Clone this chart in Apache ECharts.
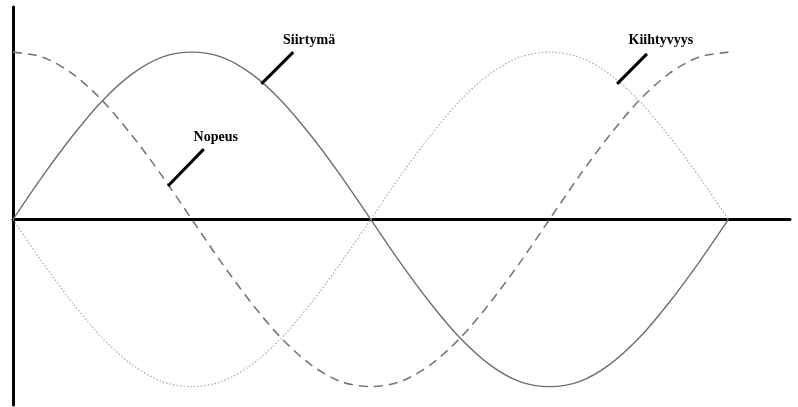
<!DOCTYPE html>
<html>
<head>
<meta charset="utf-8">
<script src="https://cdn.jsdelivr.net/npm/echarts@6/dist/echarts.min.js"></script>
<style>
  html, body { margin: 0; padding: 0; background: #fff; }
  #chart { width: 798px; height: 407px; }
</style>
</head>
<body>
<div id="chart"></div>
<script>
// phase angle in degrees (one full period)
const angles = [0, 15, 30, 45, 60, 75, 90, 105, 120, 135, 150, 165, 180,
  195, 210, 225, 240, 255, 270, 285, 300, 315, 330, 345, 360];

// values (amplitude 1 = peak height)
const siirtyma = [0, 0.26, 0.5, 0.71, 0.87, 0.97, 1, 0.97, 0.87, 0.71, 0.5, 0.26, 0,
  -0.26, -0.5, -0.71, -0.87, -0.97, -1, -0.97, -0.87, -0.71, -0.5, -0.26, 0];
const nopeus = [1, 0.97, 0.87, 0.71, 0.5, 0.26, 0, -0.26, -0.5, -0.71, -0.87, -0.97, -1,
  -0.97, -0.87, -0.71, -0.5, -0.26, 0, 0.26, 0.5, 0.71, 0.87, 0.97, 1];
const kiihtyvyys = [0, -0.26, -0.5, -0.71, -0.87, -0.97, -1, -0.97, -0.87, -0.71, -0.5, -0.26, 0,
  0.26, 0.5, 0.71, 0.87, 0.97, 1, 0.97, 0.87, 0.71, 0.5, 0.26, 0];

// annotation labels: text, leader start, leader end, text anchor (data units)
const labelNames = ['Siirtymä', 'Nopeus', 'Kiihtyvyys'];
const leaderFrom = [[125, 0.81], [78, 0.2], [304, 0.81]];
const leaderTo = [[141, 1.0], [96, 0.42], [319, 0.99]];
const labelAt = [[149, 1.07], [102, 0.49], [326, 1.07]];

const pairs = (ys) => angles.map((a, i) => [a, ys[i]]);

const chart = echarts.init(document.getElementById('chart'));

chart.setOption({
  animation: false,
  backgroundColor: '#fff',
  grid: { left: 13, right: 8, top: 7, bottom: 2 },
  xAxis: {
    type: 'value',
    min: 0,
    max: 391,
    axisLine: { onZero: true, lineStyle: { color: '#000', width: 3 } },
    axisTick: { show: false },
    axisLabel: { show: false },
    splitLine: { show: false }
  },
  yAxis: {
    type: 'value',
    min: -1.11,
    max: 1.27,
    axisLine: { show: true, lineStyle: { color: '#000', width: 3 } },
    axisTick: { show: false },
    axisLabel: { show: false },
    splitLine: { show: false }
  },
  series: [
    {
      name: 'Siirtymä', type: 'line', data: pairs(siirtyma), smooth: 0.3,
      showSymbol: false, z: 3,
      lineStyle: { color: '#6e6e6e', width: 1.4, type: 'solid' }
    },
    {
      name: 'Nopeus', type: 'line', data: pairs(nopeus), smooth: 0.3,
      showSymbol: false, z: 3,
      lineStyle: { color: '#777', width: 1.6, type: [9, 6] }
    },
    {
      name: 'Kiihtyvyys', type: 'line', data: pairs(kiihtyvyys), smooth: 0.3,
      showSymbol: false, z: 3,
      lineStyle: { color: '#aaa', width: 1.2, type: [1.5, 2] }
    }
  ]
});

// leader lines and labels, placed through the chart's own scales
const graphics = [];
labelNames.forEach((name, i) => {
  const p1 = chart.convertToPixel({ gridIndex: 0 }, leaderFrom[i]);
  const p2 = chart.convertToPixel({ gridIndex: 0 }, leaderTo[i]);
  const t = chart.convertToPixel({ gridIndex: 0 }, labelAt[i]);
  graphics.push({
    type: 'line',
    shape: { x1: p1[0], y1: p1[1], x2: p2[0], y2: p2[1] },
    style: { stroke: '#000', lineWidth: 3 },
    z: 10
  });
  graphics.push({
    type: 'text',
    x: t[0], y: t[1],
    style: {
      text: name,
      fill: '#000',
      font: 'bold 14px "Liberation Serif", "DejaVu Serif", serif',
      align: 'center',
      verticalAlign: 'middle'
    },
    z: 10
  });
});
chart.setOption({ graphic: graphics });
</script>
</body>
</html>
